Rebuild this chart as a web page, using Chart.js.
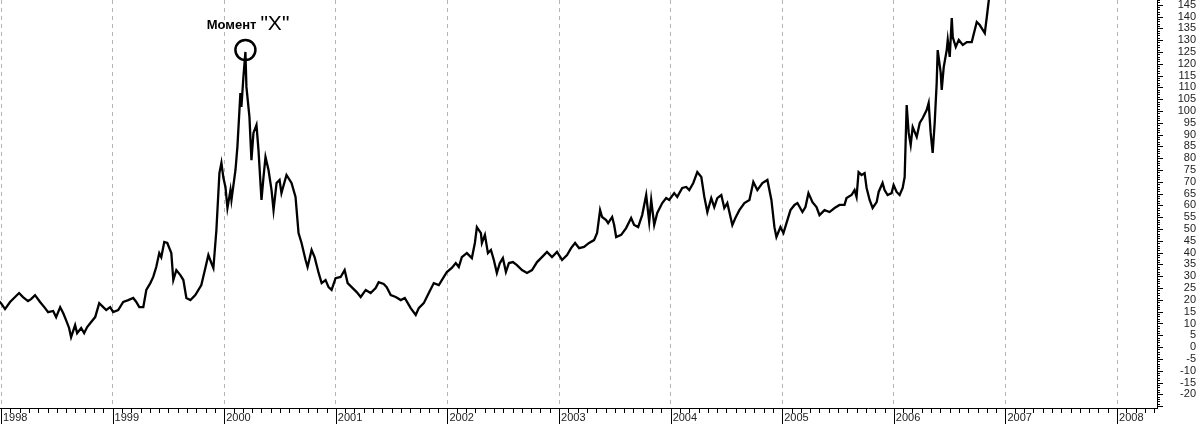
<!DOCTYPE html>
<html>
<head>
<meta charset="utf-8">
<script src="https://cdn.jsdelivr.net/npm/chart.js@4"></script>
<style>
html, body { margin: 0; padding: 0; background: #fff; }
</style>
</head>
<body>
<canvas id="chart" width="1200" height="425"></canvas>
<script>
// price series, x in decimal years
const dates = [
  1997.973, 1998.000, 1998.036, 1998.081, 1998.126, 1998.162, 1998.197, 1998.242, 1998.269, 1998.305,
  1998.350, 1998.395, 1998.422, 1998.467, 1998.494, 1998.530, 1998.557, 1998.583, 1998.610, 1998.628,
  1998.664, 1998.682, 1998.718, 1998.745, 1998.772, 1998.808, 1998.844, 1998.880, 1998.916, 1998.943,
  1998.978, 1999.005, 1999.050, 1999.095, 1999.140, 1999.185, 1999.212, 1999.239, 1999.275, 1999.302,
  1999.338, 1999.364, 1999.391, 1999.418, 1999.436, 1999.463, 1999.490, 1999.526, 1999.544, 1999.571,
  1999.607, 1999.634, 1999.661, 1999.697, 1999.741, 1999.795, 1999.831, 1999.858, 1999.885, 1999.903,
  1999.930, 1999.957, 1999.975, 1999.993, 2000.011, 2000.029, 2000.056, 2000.065, 2000.101, 2000.118,
  2000.145, 2000.154, 2000.172, 2000.190, 2000.199, 2000.226, 2000.244, 2000.262, 2000.289, 2000.307,
  2000.334, 2000.352, 2000.370, 2000.397, 2000.424, 2000.442, 2000.469, 2000.496, 2000.513, 2000.558,
  2000.603, 2000.639, 2000.666, 2000.693, 2000.729, 2000.747, 2000.783, 2000.810, 2000.846, 2000.873,
  2000.908, 2000.935, 2000.962, 2000.998, 2001.043, 2001.079, 2001.106, 2001.142, 2001.187, 2001.223,
  2001.268, 2001.312, 2001.357, 2001.384, 2001.429, 2001.456, 2001.492, 2001.537, 2001.582, 2001.618,
  2001.645, 2001.671, 2001.716, 2001.743, 2001.788, 2001.833, 2001.878, 2001.923, 2001.968, 2001.995,
  2002.039, 2002.075, 2002.102, 2002.129, 2002.174, 2002.219, 2002.246, 2002.264, 2002.300, 2002.309,
  2002.336, 2002.363, 2002.390, 2002.416, 2002.443, 2002.470, 2002.497, 2002.524, 2002.551, 2002.587,
  2002.623, 2002.668, 2002.713, 2002.758, 2002.803, 2002.847, 2002.892, 2002.937, 2002.982, 2003.027,
  2003.072, 2003.108, 2003.144, 2003.180, 2003.224, 2003.269, 2003.314, 2003.341, 2003.368, 2003.386,
  2003.422, 2003.440, 2003.476, 2003.494, 2003.512, 2003.557, 2003.601, 2003.646, 2003.673, 2003.709,
  2003.745, 2003.781, 2003.808, 2003.826, 2003.853, 2003.880, 2003.925, 2003.960, 2003.987, 2004.032,
  2004.059, 2004.104, 2004.140, 2004.167, 2004.203, 2004.239, 2004.275, 2004.302, 2004.329, 2004.364,
  2004.391, 2004.418, 2004.454, 2004.481, 2004.508, 2004.553, 2004.580, 2004.616, 2004.661, 2004.706,
  2004.741, 2004.777, 2004.822, 2004.867, 2004.903, 2004.930, 2004.948, 2004.984, 2005.011, 2005.038,
  2005.074, 2005.110, 2005.136, 2005.181, 2005.208, 2005.235, 2005.271, 2005.307, 2005.334, 2005.379,
  2005.424, 2005.469, 2005.513, 2005.558, 2005.576, 2005.621, 2005.648, 2005.666, 2005.684, 2005.711,
  2005.738, 2005.756, 2005.783, 2005.810, 2005.846, 2005.864, 2005.899, 2005.917, 2005.944, 2005.980,
  2005.998, 2006.025, 2006.052, 2006.079, 2006.097, 2006.115, 2006.133, 2006.151, 2006.169, 2006.205,
  2006.232, 2006.259, 2006.294, 2006.312, 2006.330, 2006.348, 2006.366, 2006.384, 2006.393, 2006.420,
  2006.429, 2006.447, 2006.474, 2006.483, 2006.501, 2006.519, 2006.528, 2006.555, 2006.582, 2006.618,
  2006.654, 2006.698, 2006.743, 2006.770, 2006.815, 2006.833, 2006.851, 2006.887
];
const prices = [
  19.9, 18.6, 16.1, 19.1, 21.2, 22.9, 21.2, 19.5, 20.3, 22.0,
  19.1, 16.5, 14.8, 15.3, 12.7, 16.9, 14.4, 11.4, 8.1, 4.2,
  9.3, 5.9, 8.1, 5.9, 8.5, 10.6, 12.7, 18.6, 16.9, 15.7,
  16.9, 14.8, 15.7, 19.1, 19.9, 20.8, 19.1, 16.9, 16.9, 24.2,
  27.1, 29.7, 33.9, 39.8, 38.1, 44.5, 44.1, 39.8, 28.4, 32.6,
  30.5, 28.4, 20.8, 19.9, 22.0, 26.3, 33.5, 39.0, 35.6, 33.5,
  49.6, 73.7, 78.0, 71.6, 67.8, 58.9, 66.5, 62.3, 75.0, 84.7,
  107.6, 101.7, 114.4, 125.0, 110.2, 97.5, 79.2, 90.7, 94.1, 83.5,
  62.3, 72.0, 80.5, 75.0, 66.5, 58.0, 69.5, 70.8, 65.2, 72.9,
  69.5, 63.6, 48.3, 44.1, 36.9, 33.9, 41.1, 38.1, 31.4, 27.1,
  28.4, 25.4, 24.2, 29.2, 29.7, 32.6, 27.1, 25.4, 23.3, 21.2,
  24.2, 22.9, 25.0, 27.5, 26.7, 25.4, 22.0, 21.2, 19.9, 20.8,
  18.6, 16.5, 13.6, 16.5, 18.6, 22.9, 27.1, 26.3, 29.7, 31.8,
  33.5, 35.6, 33.9, 38.1, 39.8, 37.7, 44.1, 50.8, 48.3, 44.1,
  47.5, 39.8, 41.1, 36.9, 31.4, 35.6, 37.7, 31.8, 35.6, 36.0,
  34.7, 32.6, 31.4, 32.6, 36.0, 38.1, 40.3, 38.1, 40.3, 36.9,
  39.0, 41.9, 44.1, 41.9, 42.4, 44.1, 45.3, 48.3, 58.0, 55.1,
  53.8, 52.5, 55.1, 51.7, 46.6, 47.5, 50.4, 54.7, 51.7, 50.8,
  55.9, 64.4, 53.0, 62.3, 51.7, 56.8, 61.0, 63.1, 62.3, 65.2,
  63.6, 67.4, 67.8, 66.5, 69.5, 74.1, 72.0, 63.6, 57.2, 63.1,
  59.3, 63.1, 64.4, 58.9, 61.0, 51.7, 54.7, 58.0, 61.0, 62.3,
  69.9, 66.5, 69.5, 70.8, 62.3, 50.8, 46.6, 50.8, 48.3, 52.5,
  58.0, 60.2, 61.0, 57.2, 59.3, 65.2, 61.4, 59.3, 55.9, 58.0,
  57.2, 58.9, 60.2, 60.2, 63.1, 64.4, 66.5, 63.6, 74.1, 72.9,
  73.7, 67.4, 62.3, 58.9, 61.4, 65.7, 69.5, 66.5, 64.4, 65.2,
  68.6, 65.7, 64.4, 67.4, 72.0, 102.5, 90.7, 85.6, 93.2, 89.0,
  94.9, 97.0, 100.4, 103.4, 90.7, 82.2, 94.9, 111.9, 125.8, 116.1,
  108.9, 118.6, 125.8, 130.1, 122.9, 139.4, 131.3, 127.1, 130.1, 128.0,
  129.2, 129.2, 137.7, 136.4, 133.0, 139.8, 147.0, 151.3
];

const yearTicks = [1998, 1999, 2000, 2001, 2002, 2003, 2004, 2005, 2006, 2007, 2008];
const priceTicks = [-20, -15, -10, -5, 0, 5, 10, 15, 20, 25, 30, 35, 40, 45, 50, 55, 60, 65, 70,
  75, 80, 85, 90, 95, 100, 105, 110, 115, 120, 125, 130, 135, 140, 145];

const markText = 'Момент';
const markLetter = '"X"';

const FONT = '"Liberation Sans", Arial, sans-serif';

// axis lines plus the dense comb of minor ticks
const axisMarks = {
    id: 'axisMarks',
    afterDraw(chart) {
        const { ctx, chartArea: a, scales: { x, y } } = chart;
        ctx.save();
        ctx.strokeStyle = '#000';
        ctx.lineWidth = 1;
        ctx.beginPath();
        ctx.moveTo(a.left, a.bottom + 0.5);
        ctx.lineTo(a.right + 1, a.bottom + 0.5);
        ctx.moveTo(a.right + 0.5, a.top);
        ctx.lineTo(a.right + 0.5, a.bottom);
        for (let v = Math.ceil(y.min); v <= y.max; v++) {
            const py = Math.round(y.getPixelForValue(v)) + 0.5;
            const len = v % 5 === 0 ? 6 : 3;
            ctx.moveTo(a.right, py);
            ctx.lineTo(a.right + len, py);
        }
        yearTicks.forEach(yr => {
            for (let m = 0; m < 12; m++) {
                const val = yr + m / 12;
                if (val > x.max) break;
                const px = Math.round(x.getPixelForValue(val)) + 0.5;
                ctx.moveTo(px, a.bottom);
                ctx.lineTo(px, a.bottom + (m === 0 ? 16 : 5));
            }
        });
        ctx.stroke();
        ctx.restore();
    }
};

// circled peak with its caption
const peakMark = {
    id: 'peakMark',
    afterDatasetsDraw(chart) {
        let peak = 0;
        dates.forEach((d, i) => {
            if (d < 2001 && prices[i] > prices[peak]) peak = i;
        });
        const p = chart.getDatasetMeta(0).data[peak];
        const cx = p.x, cy = p.y - 2;
        const ctx = chart.ctx;
        ctx.save();
        ctx.strokeStyle = '#000';
        ctx.lineWidth = 2.5;
        ctx.beginPath();
        ctx.arc(cx, cy, 10, 0, Math.PI * 2);
        ctx.stroke();
        ctx.fillStyle = '#000';
        ctx.textBaseline = 'alphabetic';
        ctx.font = 'bold 13px ' + FONT;
        ctx.textAlign = 'right';
        ctx.fillText(markText, cx + 11, cy - 21);
        ctx.font = '21px ' + FONT;
        ctx.textAlign = 'left';
        ctx.fillText(markLetter, cx + 15, cy - 20);
        ctx.restore();
    }
};

const ctx = document.getElementById('chart').getContext('2d');
const chart = new Chart(ctx, {
    type: 'line',
    data: {
        datasets: [{
            data: dates.map((d, i) => ({ x: d, y: prices[i] })),
            borderColor: '#000',
            borderWidth: 2.3,
            pointRadius: 0,
            tension: 0,
            fill: false
        }]
    },
    options: {
        responsive: false,
        animation: false,
        layout: { padding: { left: 0, right: 4, top: 0, bottom: 0 } },
        plugins: { legend: { display: false }, tooltip: { enabled: false } },
        scales: {
            x: {
                type: 'linear',
                min: 1997.991,
                max: 2008.358,
                afterBuildTicks: s => { s.ticks = yearTicks.map(v => ({ value: v })); },
                afterFit: s => { s.height = 17; s.paddingLeft = 0; s.paddingRight = 0; },
                grid: { color: '#b4b4b4', lineWidth: 1, drawTicks: false },
                border: { display: false, dash: [4, 4] },
                ticks: {
                    autoSkip: false,
                    maxRotation: 0,
                    align: 'start',
                    labelOffset: 2,
                    padding: 3,
                    color: '#222',
                    font: { family: FONT, size: 11 },
                    callback: v => String(v)
                }
            },
            y: {
                type: 'linear',
                position: 'right',
                min: -25.8,
                max: 147,
                afterBuildTicks: s => { s.ticks = priceTicks.map(v => ({ value: v })); },
                afterFit: s => { s.width = 39; s.paddingTop = 0; s.paddingBottom = 0; },
                grid: { display: false, drawTicks: false },
                border: { display: false },
                ticks: {
                    autoSkip: false,
                    crossAlign: 'far',
                    padding: 0,
                    color: '#222',
                    font: { family: FONT, size: 11 },
                    callback: v => String(v)
                }
            }
        }
    },
    plugins: [axisMarks, peakMark]
});
</script>
</body>
</html>
